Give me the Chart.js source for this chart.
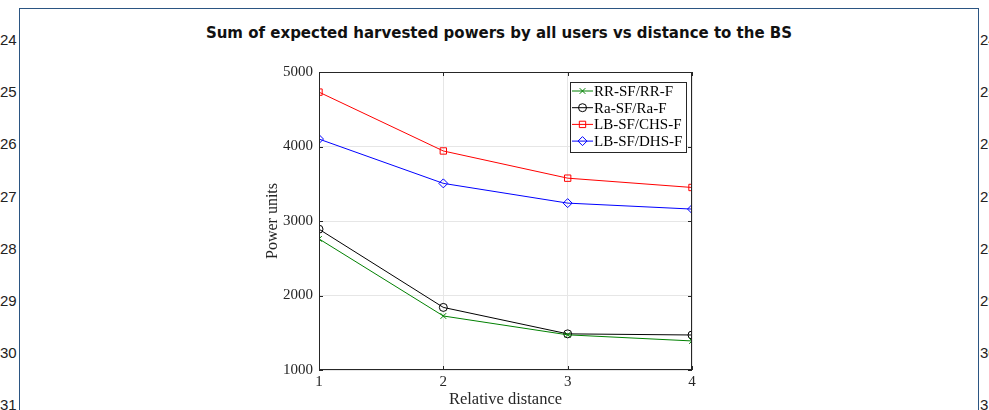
<!DOCTYPE html>
<html>
<head>
<meta charset="utf-8">
<script src="https://cdn.jsdelivr.net/npm/chart.js@4.4.1/dist/chart.umd.min.js"></script>
<style>
  body { margin: 0; background: #fff; overflow: hidden; }
  #page { position: relative; width: 989px; height: 410px; }
  #frame { position: absolute; left: 19px; top: 8px; width: 958px; height: 420px; border: 1px solid #2b5582; border-bottom: none; }
  #title { position: absolute; left: 19px; width: 960px; top: 24px; text-align: center;
    font: bold 15px "DejaVu Sans", sans-serif; color: #111; }
  .ln { position: absolute; font: 15px "Liberation Sans", Arial, sans-serif; color: #222; }
  #chart { position: absolute; left: 0; top: 0; }
</style>
</head>
<body>
<div id="page">
  <div id="frame"></div>
  <div id="nums"></div>
  <div id="title">Sum of expected harvested powers by all users vs distance to the BS</div>
  <canvas id="chart" width="989" height="410"></canvas>
</div>
<script>
// Values
const distances = [1, 2, 3, 4];
const rrValues = [2760, 1725, 1472, 1390];
const raValues = [2890, 1840, 1485, 1470];
const chsValues = [4730, 3940, 3575, 3450];
const dhsValues = [4100, 3505, 3240, 3160];
const seriesNames = ['RR-SF/RR-F', 'Ra-SF/Ra-F', 'LB-SF/CHS-F', 'LB-SF/DHS-F'];
const yTicks = [1000, 2000, 3000, 4000, 5000];
const lineNumbers = [24, 25, 26, 27, 28, 29, 30, 31];

// document margin line numbers
const nums = document.getElementById('nums');
lineNumbers.forEach((n, i) => {
    const top = 31 + i * 52.2;
    const l = document.createElement('div');
    l.className = 'ln';
    l.style.left = '0px';
    l.style.top = top + 'px';
    l.textContent = n;
    nums.appendChild(l);
    const r = document.createElement('div');
    r.className = 'ln';
    r.style.left = '980px';
    r.style.top = top + 'px';
    r.textContent = n;
    nums.appendChild(r);
});

const serif = '"Liberation Serif", "Times New Roman", serif';

function mkData(vals) {
    return distances.map((d, i) => ({ x: d, y: vals[i] }));
}

const datasets = [
    { label: seriesNames[0], data: mkData(rrValues), borderColor: '#008000', pointStyle: 'crossRot', pointRadius: 4 },
    { label: seriesNames[1], data: mkData(raValues), borderColor: '#000000', pointStyle: 'circle', pointRadius: 4 },
    { label: seriesNames[2], data: mkData(chsValues), borderColor: '#ff0000', pointStyle: 'rect', pointRadius: 4.5 },
    { label: seriesNames[3], data: mkData(dhsValues), borderColor: '#0000ff', pointStyle: 'rectRot', pointRadius: 4.5 }
].map(ds => Object.assign(ds, {
    borderWidth: 1,
    pointBorderWidth: 1,
    pointBackgroundColor: 'rgba(0,0,0,0)',
    pointBorderColor: ds.borderColor,
    tension: 0,
    fill: false
}));

// box, inner ticks and legend in MATLAB style
const matlabBox = {
    id: 'matlabBox',
    afterDatasetsDraw(chart) {
        const { ctx, chartArea: a, scales } = chart;
        ctx.save();
        ctx.strokeStyle = '#262626';
        ctx.lineWidth = 1;
        ctx.strokeRect(a.left + 0.5, a.top + 0.5, a.right - a.left - 1, a.bottom - a.top - 1);
        ctx.beginPath();
        yTicks.forEach(v => {
            const y = Math.round(scales.y.getPixelForValue(v)) + 0.5;
            ctx.moveTo(a.left, y); ctx.lineTo(a.left + 4, y);
            ctx.moveTo(a.right, y); ctx.lineTo(a.right - 4, y);
        });
        distances.forEach(v => {
            const x = Math.round(scales.x.getPixelForValue(v)) + 0.5;
            ctx.moveTo(x, a.bottom); ctx.lineTo(x, a.bottom - 4);
            ctx.moveTo(x, a.top); ctx.lineTo(x, a.top + 4);
        });
        ctx.stroke();

        // legend
        const lx = 570, ly = 82, lw = 116, lh = 70;
        ctx.fillStyle = '#fff';
        ctx.fillRect(lx, ly, lw, lh);
        ctx.strokeStyle = '#262626';
        ctx.strokeRect(lx + 0.5, ly + 0.5, lw, lh);
        ctx.font = '15px ' + serif;
        ctx.textBaseline = 'middle';
        chart.data.datasets.forEach((ds, i) => {
            const y = ly + 9 + i * 16.7;
            ctx.strokeStyle = ds.borderColor;
            ctx.beginPath();
            ctx.moveTo(lx + 2, y); ctx.lineTo(lx + 23, y);
            ctx.stroke();
            ctx.fillStyle = 'rgba(0,0,0,0)';
            Chart.helpers.drawPoint(ctx, {
                pointStyle: ds.pointStyle, radius: ds.pointRadius, borderWidth: 1
            }, lx + 12.5, y);
            ctx.fillStyle = '#000';
            ctx.fillText(ds.label, lx + 24, y + 1);
        });
        ctx.restore();
    }
};

new Chart(document.getElementById('chart'), {
    type: 'line',
    data: { datasets: datasets },
    options: {
        responsive: false,
        animation: false,
        layout: { padding: { left: 262, right: 297, top: 72, bottom: 0 } },
        plugins: { legend: { display: false }, tooltip: { enabled: false } },
        scales: {
            x: {
                type: 'linear', min: 1, max: 4,
                afterFit: s => { s.height = 40; },
                border: { display: false },
                grid: { color: '#e6e6e6', drawTicks: false },
                ticks: { stepSize: 1, padding: 3, color: '#262626', font: { family: serif, size: 15 },
                    callback: v => String(v) },
                title: { display: true, text: 'Relative distance', color: '#262626', padding: { top: 0, bottom: 0 }, font: { family: serif, size: 16.5 } }
            },
            y: {
                min: 1000, max: 5000,
                afterFit: s => { s.width = 57; },
                border: { display: false },
                grid: { color: '#e6e6e6', drawTicks: false },
                ticks: { stepSize: 1000, padding: 6, color: '#262626', font: { family: serif, size: 15 },
                    callback: v => String(v) },
                title: { display: true, text: 'Power units', color: '#262626', padding: { top: 1, bottom: 0 }, font: { family: serif, size: 16 } }
            }
        }
    },
    plugins: [matlabBox]
});
</script>
</body>
</html>
